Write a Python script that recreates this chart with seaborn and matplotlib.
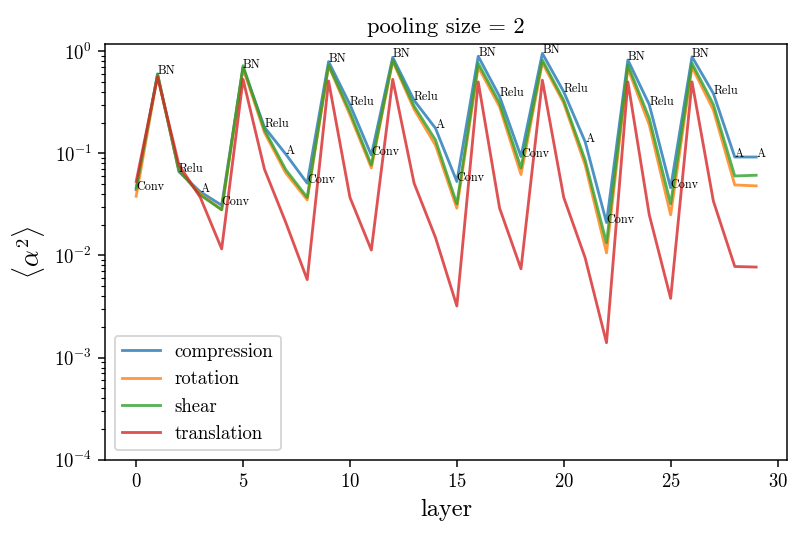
import matplotlib
matplotlib.use("Agg")
import matplotlib.pyplot as plt
import seaborn as sns
import pandas as pd
import numpy as np

layers = list(range(30))
layer_types = ['Conv', 'BN', 'Relu', 'A', 'Conv', 'BN', 'Relu', 'A', 'Conv', 'BN',
               'Relu', 'Conv', 'BN', 'Relu', 'A', 'Conv', 'BN', 'Relu', 'Conv', 'BN',
               'Relu', 'A', 'Conv', 'BN', 'Relu', 'Conv', 'BN', 'Relu', 'A', 'A']

compression = [0.044, 0.60, 0.066, 0.042, 0.031, 0.69, 0.18, 0.098, 0.051, 0.79,
               0.30, 0.096, 0.87, 0.33, 0.176, 0.053, 0.89, 0.36, 0.093, 0.95,
               0.40, 0.13, 0.021, 0.82, 0.30, 0.046, 0.88, 0.385, 0.092, 0.092]
rotation = [0.038, 0.58, 0.068, 0.040, 0.028, 0.68, 0.16, 0.064, 0.035, 0.72,
            0.237, 0.072, 0.80, 0.27, 0.12, 0.029, 0.70, 0.285, 0.062, 0.77,
            0.31, 0.077, 0.0106, 0.68, 0.19, 0.025, 0.70, 0.265, 0.049, 0.048]
shear = [0.046, 0.59, 0.068, 0.039, 0.028, 0.72, 0.17, 0.069, 0.037, 0.73,
         0.255, 0.077, 0.82, 0.29, 0.135, 0.032, 0.76, 0.31, 0.072, 0.82,
         0.33, 0.086, 0.0133, 0.73, 0.22, 0.032, 0.76, 0.30, 0.060, 0.061]
translation = [0.053, 0.56, 0.077, 0.037, 0.0116, 0.53, 0.070, 0.021, 0.0058, 0.51,
               0.037, 0.0113, 0.53, 0.051, 0.015, 0.0032, 0.50, 0.029, 0.0074, 0.52,
               0.037, 0.0095, 0.0014, 0.50, 0.025, 0.0038, 0.50, 0.034, 0.0078, 0.0077]

series = {'compression': compression, 'rotation': rotation,
          'shear': shear, 'translation': translation}

plt.rcParams['font.family'] = 'cmr10'
plt.rcParams['mathtext.fontset'] = 'cm'
plt.rcParams['axes.formatter.use_mathtext'] = True

fig, ax = plt.subplots(figsize=(809 / 135, 539 / 135), dpi=135)
fig.subplots_adjust(left=0.130, right=0.973, top=0.918, bottom=0.147)

palette = sns.color_palette('tab10', 4)
for (name, vals), col in zip(series.items(), palette):
    sns.lineplot(x=layers, y=vals, ax=ax, color=col, alpha=0.8,
                 linewidth=1.5, label=name)

# layer-type tags on the compression curve
for i, lbl in enumerate(layer_types):
    ax.text(layers[i], compression[i], lbl, fontsize=6.5)

ax.set_yscale('log')
ax.set_ylim(1e-4, 1.17)
ax.set_xlim(-1.45, 30.45)
ax.set_xlabel('layer', fontsize=13)
ax.set_ylabel(r'$\langle \alpha^2 \rangle$', fontsize=14)
ax.set_title('pooling size = 2', fontsize=12)
ax.legend(loc='lower left', fontsize=10)

fig.savefig('out.png', dpi=135)
